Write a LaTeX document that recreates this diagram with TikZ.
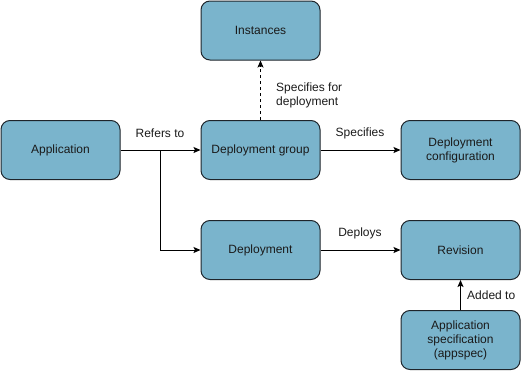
\documentclass[tikz,border=0pt]{standalone}
\usepackage{fontspec}
\setmainfont{Liberation Sans}
\usetikzlibrary{arrows.meta}
\definecolor{boxfill}{RGB}{122,180,204}
\definecolor{boxline}{RGB}{30,36,42}
\definecolor{txt}{RGB}{26,26,26}

\begin{document}
\begin{tikzpicture}[x = 1pt, y = -1pt, font = \fontsize{12}{14}\selectfont,
		box/.style = {draw = boxline, fill = boxfill, rounded corners = 9pt, line width = 1pt,
			minimum width = 119pt, minimum height = 59pt, align = center, text = txt},
		link/.style = {draw = black, line width = 1pt, -{Stealth[length = 7pt, width = 6pt, inset = 1.5pt]}},
		lbl/.style = {text = txt, inner sep = 0pt}]
		\useasboundingbox (0, 0) rectangle (522, 372);
		%%%%%%%%%%%%%
		\node[box] (app) at (60.5, 150) {Application};
		\node[box] (inst) at (260.5, 30.5) {Instances};
		\node[box] (grp) at (260.5, 150) {Deployment group};
		\node[box] (conf) at (460.5, 150) {Deployment\\configuration};
		\node[box] (dep) at (260.5, 250) {Deployment};
		\node[box] (rev) at (460.5, 250) {Revision};
		\node[box] (spec) at (460.5, 340) {Application\\specification\\(appspec)};
		\coordinate (split) at (160.5, 150);
		%%%%%%%%%%%%%
		\draw[link] (app) to (grp);
		\draw[link] (split) |- (dep);
		\draw[link, dashed, dash pattern = on 3pt off 3pt] (grp) to (inst);
		\draw[link] (grp) to (conf);
		\draw[link] (dep) to (rev);
		\draw[link] (spec) to (rev);
		%%%%%%%%%%%%%
		\node[lbl] (l1) at (160, 133) {Refers to};
		\node[lbl, anchor = west, align = left] (l2) at (276, 95) {Specifies for\\deployment};
		\node[lbl] (l3) at (360, 133) {Specifies};
		\node[lbl] (l4) at (360, 233) {Deploys};
		\node[lbl, anchor = west] (l5) at (467, 295.5) {Added to};
\end{tikzpicture}
\end{document}
